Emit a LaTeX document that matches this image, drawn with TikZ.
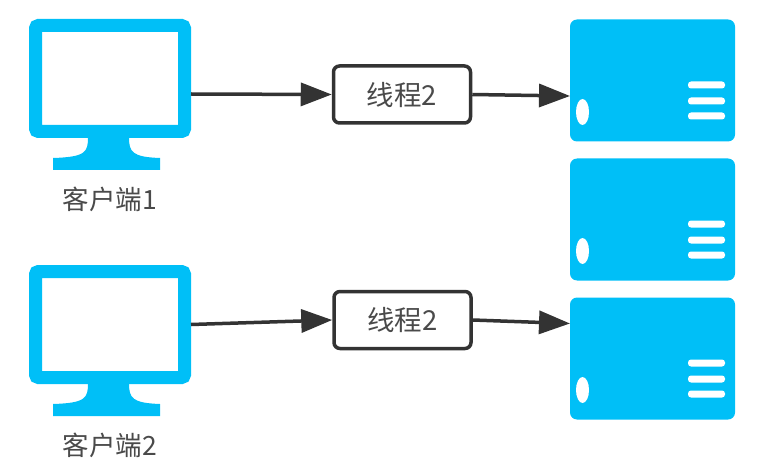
\documentclass[tikz,border=0pt]{standalone}
\usepackage{fontspec}
\setmainfont{Noto Sans CJK SC}
\usetikzlibrary{arrows.meta,positioning}
\definecolor{skyblue}{HTML}{00BFF7}
\definecolor{darkline}{HTML}{333333}
\definecolor{darktext}{HTML}{4A4A4A}
\tikzset{
    monitor/.style={draw=skyblue,fill=white,line width=13pt,rounded corners=3pt,minimum width=149pt,minimum height=106pt},
    server/.style={fill=skyblue,rounded corners=7pt,outer sep=0pt,minimum width=165pt,minimum height=122pt},
    thread/.style={draw=darkline,fill=white,line width=3.5pt,rounded corners=6pt,minimum width=137pt,minimum height=57pt,text=darktext,font=\fontsize{27.5}{28}\selectfont},
    caption/.style={text=darktext,font=\fontsize{26.5}{27}\selectfont,inner sep=0pt},
    link/.style={draw=darkline,line width=3.5pt,-{Triangle[length=31pt,width=23pt]}},
    stand/.pic={
        \fill[skyblue] (-22,-1) .. controls (-22,14) and (-24,19) .. (-57,20) -- (-57,32) -- (50,32) -- (50,20)
            .. controls (22,19) and (19,14) .. (19,-1) -- cycle;
    },
    panel/.pic={
        \fill[white] (-70,31.5) ellipse (6.5 and 13);
        \foreach \y in {4.5,20.5,35.5}
            \fill[white,rounded corners=3pt] (35.5,\y-3.5) rectangle (72.5,\y+3.5);
    },
}
\begin{document}
\begin{tikzpicture}[x=1pt,y=-1pt,node distance=17pt]
    \useasboundingbox (0,0) rectangle (762,473);

    \node[monitor] (client1) at (110,78.5) {};
    \node[monitor] (client2) [below=127pt of client1] {};
    \pic at (client1.south) {stand};
    \pic at (client2.south) {stand};
    \node[caption] (client1label) [below=49pt of client1] {客户端1};
    \node[caption] (client2label) [below=49pt of client2] {客户端2};

    \node[server] (server1) at (652.5,80.5) {};
    \node[server] (server2) [below=of server1] {};
    \node[server] (server3) [below=of server2] {};
    \foreach \s in {server1,server2,server3}
        \pic at (\s) {panel};

    \node[thread] (thread1) at (402,94.5) {线程2};
    \node[thread] (thread2) at (402.5,320) {线程2};

    \draw[link] ([yshift=-15.5pt]client1.east) -- (thread1.west);
    \draw[link] (thread1.east) -- ([yshift=-15.5pt]server1.west);
    \draw[link] (client2.east) -- (thread2.west);
    \draw[link] (thread2.east) -- ([yshift=35pt]server3.west);
\end{tikzpicture}
\end{document}
